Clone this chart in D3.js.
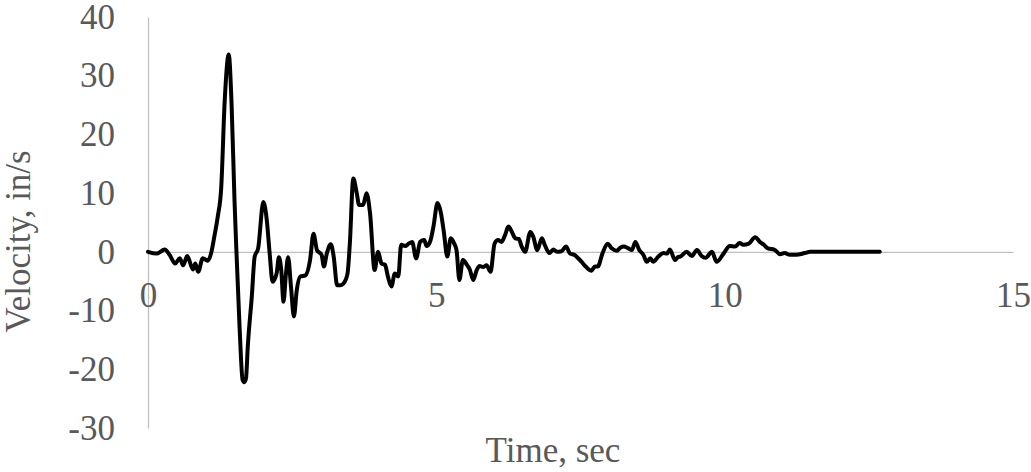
<!DOCTYPE html>
<html>
<head>
<meta charset="utf-8">
<script src="https://cdn.jsdelivr.net/npm/d3@7/dist/d3.min.js"></script>
<style>
  html, body { margin: 0; padding: 0; background: #fff; }
  svg { display: block; }
  text { font-family: "Liberation Serif", "Times New Roman", serif; }
</style>
</head>
<body>
<svg id="chart" width="1031" height="472"></svg>
<script>
const timeSec = [0, 0.15, 0.29, 0.38, 0.47, 0.55, 0.61, 0.68, 0.78, 0.82, 0.87, 0.95, 1.04, 1.10, 1.15, 1.21, 1.27, 1.33, 1.40, 1.45, 1.50, 1.53, 1.59, 1.64, 1.67, 1.70, 1.73, 1.80, 1.85, 1.91, 2.00, 2.06, 2.11, 2.16, 2.23, 2.27, 2.31, 2.35, 2.39, 2.43, 2.48, 2.53, 2.58, 2.64, 2.73, 2.81, 2.87, 2.93, 3.01, 3.05, 3.10, 3.17, 3.22, 3.28, 3.34, 3.39, 3.46, 3.50, 3.56, 3.62, 3.66, 3.73, 3.79, 3.85, 3.93, 3.99, 4.05, 4.11, 4.16, 4.22, 4.28, 4.34, 4.39, 4.46, 4.52, 4.58, 4.65, 4.72, 4.79, 4.83, 4.89, 4.95, 5.02, 5.08, 5.13, 5.19, 5.25, 5.31, 5.35, 5.40, 5.46, 5.53, 5.58, 5.64, 5.70, 5.75, 5.81, 5.87, 5.94, 6.01, 6.07, 6.13, 6.19, 6.25, 6.31, 6.37, 6.43, 6.48, 6.54, 6.63, 6.68, 6.75, 6.83, 6.88, 6.96, 7.03, 7.09, 7.17, 7.25, 7.32, 7.39, 7.46, 7.52, 7.59, 7.69, 7.75, 7.80, 7.88, 7.97, 8.04, 8.13, 8.19, 8.25, 8.33, 8.39, 8.45, 8.52, 8.59, 8.65, 8.71, 8.76, 8.85, 8.94, 9.00, 9.05, 9.14, 9.19, 9.23, 9.34, 9.43, 9.52, 9.60, 9.67, 9.78, 9.86, 9.98, 10.09, 10.18, 10.26, 10.32, 10.42, 10.53, 10.61, 10.68, 10.75, 10.86, 10.96, 11.04, 11.13, 11.24, 11.39, 11.48, 12.07, 12.69];
const velocity = [0, -0.3, 0.4, -0.6, -2.0, -1.1, -2.3, -0.7, -3.0, -2.0, -3.4, -1.1, -1.5, 0, 2.6, 6, 11, 25.7, 33.6, 25, 8.8, 0.9, -13.3, -21.8, -22.2, -21.5, -16.2, -7.6, -0.8, 0.6, 8.5, 5.4, -0.3, -5.1, -3.7, -0.9, -3, -8.5, -4, -0.9, -6, -11, -6.5, -4.2, -4.0, -1.4, 3.1, 0.3, -0.5, -2.5, -0.3, 1.3, -0.8, -5.7, -5.7, -5.4, -3.7, 1.4, 12.5, 10, 8, 8, 10, 6.6, -3.1, 0, -2, -2.2, -4.2, -5.9, -3.7, -4.2, 1.2, 1.0, 1.4, 1.7, -1.1, 1.7, 2.0, 1.0, 1.7, 4.3, 8.3, 6.6, 3.4, -0.8, 2.3, 1.4, 0.3, -4.8, -1.4, -2.2, -3.0, -4.8, -3.1, -2.4, -2.6, -2.3, -3.4, 1.4, 2.0, 1.7, 2.8, 4.3, 3.4, 2.3, 2.2, 0.9, 0, 3.4, 2.6, 0.3, 2.3, 1.2, -0.2, 0.4, 0, 0.1, 0.9, -0.3, -0.5, -1.1, -1.7, -2.5, -3.2, -2.5, -2.5, -0.3, 1.4, 0.6, 0.2, 0.7, 0.9, 0.6, 0.3, 1.7, 0.3, -0.5, -1.7, -1.1, -1.7, -0.8, -0.2, -0.3, 0.4, -1.4, -0.9, -0.8, 0, -0.7, 0.3, -0.7, -1.0, 0, -1.7, -0.3, 1.0, 0.9, 1.5, 1.2, 1.4, 2.5, 1.7, 1.2, 0.6, 0.4, -0.4, -0.2, -0.5, -0.5, -0.2, 0, 0, 0];
const xTicks = [0, 5, 10, 15];
const yTicks = [-30, -20, -10, 0, 10, 20, 30, 40];
const xTitle = "Time, sec";
const yTitle = "Velocity, in/s";

const svg = d3.select("#chart");
const x = d3.scaleLinear().domain([0, 15]).range([148, 1013]);
const y = d3.scaleLinear().domain([-30, 40]).range([428, 17]);
const axisColor = "#bfbfbf";
const textColor = "#595959";
const fs = 35;
const fmt = d => String(d);

// y axis
const gy = svg.append("g").attr("transform", `translate(${x(0)},0)`)
  .call(d3.axisLeft(y).tickValues(yTicks).tickSize(0).tickPadding(33).tickFormat(fmt));
gy.select(".domain").attr("stroke", axisColor).attr("stroke-width", 1.3);
gy.selectAll("text").attr("fill", textColor).style("font-size", fs + "px").style("font-family", "Liberation Serif, Times New Roman, serif");

// x axis
const gx = svg.append("g").attr("transform", `translate(0,${y(0)})`)
  .call(d3.axisBottom(x).tickValues(xTicks).tickSize(0).tickPadding(30).tickFormat(fmt));
gx.select(".domain").attr("stroke", axisColor).attr("stroke-width", 1.3);
gx.selectAll("text").attr("fill", textColor).style("font-size", fs + "px").style("font-family", "Liberation Serif, Times New Roman, serif");

// line
const pts = timeSec.map((t, i) => [t, velocity[i]]);
svg.append("path")
  .datum(pts)
  .attr("fill", "none")
  .attr("stroke", "#000")
  .attr("stroke-width", 4)
  .attr("stroke-linejoin", "round")
  .attr("stroke-linecap", "round")
  .attr("d", d3.line().x(d => x(d[0])).y(d => y(d[1])).curve(d3.curveMonotoneX));

// titles
svg.append("text")
  .attr("x", 553).attr("y", 462)
  .attr("text-anchor", "middle")
  .attr("fill", textColor)
  .style("font-size", fs + "px")
  .text(xTitle);

svg.append("text")
  .attr("transform", "translate(30,241.5) rotate(-90)")
  .attr("text-anchor", "middle")
  .attr("fill", textColor)
  .style("font-size", fs + "px")
  .text(yTitle);
</script>
</body>
</html>
